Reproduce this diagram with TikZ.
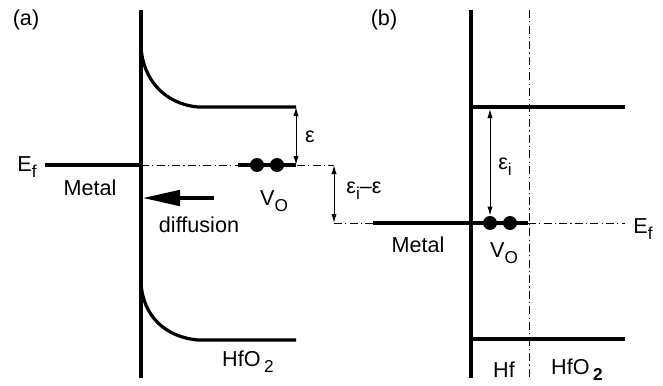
\documentclass[tikz,border=0pt]{standalone}
\usepackage{fontspec}
\setmainfont{Liberation Sans}
\usetikzlibrary{arrows.meta}
\newcommand{\lowsub}[1]{\raisebox{-0.55ex}{\fontsize{8.6}{9}\selectfont #1}}

\begin{document}
\begin{tikzpicture}[x=0.5pt,y=-0.5pt,
    band/.style={line width=1.6pt},
    dashdot/.style={line width=0.45pt, dash pattern=on 4pt off 1.6pt on 0.6pt off 1.6pt},
    vdot/.style={circle, fill, inner sep=0pt, minimum size=7pt},
    gap/.style={{Latex[length=4.5pt,width=2.6pt]}-{Latex[length=4.5pt,width=2.6pt]}, line width=0.5pt},
    lbl/.style={inner sep=0pt, font=\fontsize{10.8}{13}\selectfont}]
    \useasboundingbox (0,0) rectangle (663,385);

    % panel (a)
    \coordinate (a1) at (141,10);
    \coordinate (a2) at (141,378);
    \coordinate (a3) at (45,165);
    \coordinate (a4) at (141,165);
    \coordinate (a5) at (334,165);
    \coordinate (a6) at (238,165);
    \coordinate (a7) at (296,165);
    \coordinate (a8) at (141,47);
    \coordinate (a9) at (198,107);
    \coordinate (a10) at (296,107);
    \coordinate (a11) at (141,283);
    \coordinate (a12) at (198,340);
    \coordinate (a13) at (296,340);
    \coordinate (a14) at (214,198);
    \coordinate (a15) at (142,198);
    \node[vdot] (d1) at (257,165) {};
    \node[vdot] (d2) at (277,165) {};

    % panel (b)
    \coordinate (b1) at (471,10);
    \coordinate (b2) at (471,378);
    \coordinate (b3) at (529,10);
    \coordinate (b4) at (529,378);
    \coordinate (b5) at (334,223);
    \coordinate (b6) at (373,223);
    \coordinate (b7) at (528,223);
    \coordinate (b8) at (625,223);
    \coordinate (b9) at (471,107);
    \coordinate (b10) at (625,107);
    \coordinate (b11) at (471,339);
    \coordinate (b12) at (625,339);
    \coordinate (b13) at (490,109);
    \node[vdot] (d3) at (490,223) {};
    \node[vdot] (d4) at (510,223) {};

    % labels
    \node[lbl] (la) at (26,20) {(a)};
    \node[lbl] (lb) at (384,20) {(b)};
    \node[lbl, anchor=east] (ef1) at (37,167) {E\lowsub{f}};
    \node[lbl] (m1) at (90,188) {Metal};
    \node[lbl] (vo1) at (274,201) {V\lowsub{O}};
    \node[lbl] (df) at (199,225) {diffusion};
    \node[lbl] (hf1) at (248,362) {HfO\,\lowsub{2}};
    \node[lbl] (e1) at (310,137) {ε};
    \node[lbl] (e2) at (364,191) {ε\lowsub{i}–ε};
    \node[lbl] (e3) at (505,167) {ε\lowsub{i}};
    \node[lbl] (m2) at (418,245) {Metal};
    \node[lbl] (vo2) at (504,253) {V\lowsub{O}};
    \node[lbl, anchor=west] (ef2) at (633,229) {E\lowsub{f}};
    \node[lbl] (hf2) at (504,370) {Hf};
    \node[lbl] (hf3) at (577,370) {HfO\,\lowsub{\textbf{2}}};

    % panel (a) lines
    \draw[band] (a1) -- (a2);
    \draw[band] (a3) -- (a4);
    \draw[dashdot] (a4) -- (a5);
    \draw[band] (a6) -- (a7);
    \draw[band] (a8) .. controls (143,80) and (165,104) .. (a9) -- (a10);
    \draw[band] (a11) .. controls (143,316) and (165,337) .. (a12) -- (a13);
    \draw[gap] (a10) -- (a7);
    \draw[line width=2.4pt, -{Triangle[length=19pt,width=7.5pt]}] (a14) -- (a15);

    % panel (b) lines
    \draw[gap] (a5) -- (b5);
    \draw[dashdot] (b5) -- (b6);
    \draw[band] (b6) -- (b7);
    \draw[dashdot] (b7) -- (b8);
    \draw[band] (b1) -- (b2);
    \draw[dashdot] (b3) -- (b4);
    \draw[band] (b9) -- (b10);
    \draw[band] (b11) -- (b12);
    \draw[gap] (b13) -- (d3.north);
\end{tikzpicture}
\end{document}
